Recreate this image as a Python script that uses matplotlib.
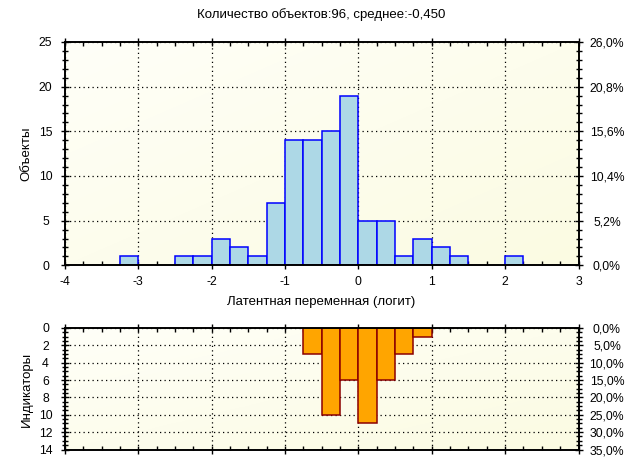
import numpy as np
import matplotlib
matplotlib.use('Agg')
import matplotlib.pyplot as plt
from matplotlib.ticker import MultipleLocator, FixedLocator
from matplotlib.colors import LinearSegmentedColormap

plt.rcParams['font.family'] = ['Liberation Sans', 'DejaVu Sans']
plt.rcParams['axes.unicode_minus'] = False

# ---------------- data ----------------
title = "Количество объектов:96, среднее:-0,450"
xlabel = "Латентная переменная (логит)"
ylabel_top = "Объекты"
ylabel_bottom = "Индикаторы"

bin_width = 0.25
person_bin_left = [-3.25, -2.5, -2.25, -2.0, -1.75, -1.5, -1.25, -1.0, -0.75,
                   -0.5, -0.25, 0.0, 0.25, 0.5, 0.75, 1.0, 1.25, 2.0]
person_counts = [1, 1, 1, 3, 2, 1, 7, 14, 14, 15, 19, 5, 5, 1, 3, 2, 1, 1]

item_bin_left = [-0.75, -0.5, -0.25, 0.0, 0.25, 0.5, 0.75]
item_counts = [3, 10, 6, 11, 6, 3, 1]

x_ticks = [-4, -3, -2, -1, 0, 1, 2, 3]
top_yticks = [0, 5, 10, 15, 20, 25]
bottom_yticks = [0, 2, 4, 6, 8, 10, 12, 14]

# ---------------- styling ----------------
DOT = (0, (1, 2.6))
TICK_FS = 8.8
LABEL_FS = 9.5


def pct_label(v, total):
    return f"{v / total * 100:.1f}%".replace('.', ',')


def add_bg(ax):
    cmap = LinearSegmentedColormap.from_list('bg', ['#FFFFF8', '#FBFBE2'])
    g = np.add.outer(np.linspace(0, 1, 64), np.linspace(0, 1, 64)) / 2
    ax.imshow(g, cmap=cmap, extent=[0, 1, 0, 1], transform=ax.transAxes,
              aspect='auto', zorder=0, interpolation='bilinear', origin='upper')


def style_spines(ax):
    for s in ax.spines.values():
        s.set_linewidth(1.2)
        s.set_color('black')


fig = plt.figure(figsize=(6.43, 4.72), dpi=100)
fig.patch.set_facecolor('white')

L = 65 / 643
W = (578.5 - 65) / 643
ax_t = fig.add_axes([L, 1 - 265.3 / 472, W, (265.3 - 42) / 472])
ax_b = fig.add_axes([L, 1 - 449.5 / 472, W, (449.5 - 328) / 472])

# ---------------- top histogram ----------------
add_bg(ax_t)
ax_t.bar(person_bin_left, person_counts, width=bin_width, align='edge',
         color='#ADD8E6', edgecolor='#0000FF', linewidth=1.1, zorder=2)
ax_t.set_xlim(x_ticks[0], x_ticks[-1])
ax_t.set_ylim(top_yticks[0], top_yticks[-1])
ax_t.set_axisbelow(True)
ax_t.xaxis.set_major_locator(FixedLocator(x_ticks))
ax_t.xaxis.set_minor_locator(MultipleLocator(0.25))
ax_t.yaxis.set_major_locator(FixedLocator(top_yticks))
ax_t.yaxis.set_minor_locator(MultipleLocator(1))
ax_t.grid(True, which='major', color='black', linestyle=DOT, linewidth=0.9)
ax_t.tick_params(axis='x', which='major', direction='inout', length=6, width=1,
                 top=True, labelsize=TICK_FS, pad=5)
ax_t.tick_params(axis='x', which='minor', direction='in', length=3, width=1, top=True)
ax_t.tick_params(axis='y', which='major', direction='inout', length=6, width=1,
                 labelsize=TICK_FS, pad=11)
ax_t.tick_params(axis='y', which='minor', direction='inout', length=4, width=1)
for lab in ax_t.get_yticklabels():
    lab.set_horizontalalignment('center')
style_spines(ax_t)

ax_t2 = ax_t.twinx()
ax_t2.set_ylim(ax_t.get_ylim())
ax_t2.yaxis.set_major_locator(FixedLocator(top_yticks))
ax_t2.yaxis.set_minor_locator(MultipleLocator(1))
total_t = sum(person_counts)
ax_t2.set_yticklabels([pct_label(v, total_t) for v in top_yticks])
ax_t2.tick_params(axis='y', which='major', direction='inout', length=6, width=1,
                  labelsize=TICK_FS, pad=17.5)
ax_t2.tick_params(axis='y', which='minor', direction='inout', length=4, width=1)
for lab in ax_t2.get_yticklabels():
    lab.set_horizontalalignment('center')
style_spines(ax_t2)

# ---------------- bottom histogram ----------------
add_bg(ax_b)
ax_b.bar(item_bin_left, item_counts, width=bin_width, align='edge',
         color='#FFA500', edgecolor='#8B0000', linewidth=1.1, zorder=2)
ax_b.set_xlim(x_ticks[0], x_ticks[-1])
ax_b.set_ylim(bottom_yticks[-1], bottom_yticks[0])
ax_b.set_axisbelow(True)
ax_b.xaxis.set_major_locator(FixedLocator(x_ticks))
ax_b.xaxis.set_minor_locator(MultipleLocator(0.25))
ax_b.yaxis.set_major_locator(FixedLocator(bottom_yticks))
ax_b.yaxis.set_minor_locator(MultipleLocator(0.5))
ax_b.grid(True, which='major', color='black', linestyle=DOT, linewidth=0.9)
ax_b.tick_params(axis='x', which='major', direction='inout', length=6, width=1,
                 top=True, labelbottom=False)
ax_b.tick_params(axis='x', which='minor', direction='in', length=3, width=1, top=True)
ax_b.tick_params(axis='y', which='major', direction='inout', length=6, width=1,
                 labelsize=TICK_FS, pad=11)
ax_b.tick_params(axis='y', which='minor', direction='inout', length=4, width=1)
for lab in ax_b.get_yticklabels():
    lab.set_horizontalalignment('center')
style_spines(ax_b)

ax_b2 = ax_b.twinx()
ax_b2.set_ylim(ax_b.get_ylim())
ax_b2.yaxis.set_major_locator(FixedLocator(bottom_yticks))
ax_b2.yaxis.set_minor_locator(MultipleLocator(0.5))
total_b = sum(item_counts)
ax_b2.set_yticklabels([pct_label(v, total_b) for v in bottom_yticks])
ax_b2.tick_params(axis='y', which='major', direction='inout', length=6, width=1,
                  labelsize=TICK_FS, pad=17.5)
ax_b2.tick_params(axis='y', which='minor', direction='inout', length=4, width=1)
for lab in ax_b2.get_yticklabels():
    lab.set_horizontalalignment('center')
style_spines(ax_b2)

# ---------------- texts ----------------
fig.text(321 / 643, 1 - 15 / 472, title, ha='center', va='center', fontsize=LABEL_FS)
fig.text(321 / 643, 1 - 302 / 472, xlabel, ha='center', va='center', fontsize=LABEL_FS)
fig.text(26 / 643, 1 - 154 / 472, ylabel_top, ha='center', va='center',
         rotation=90, fontsize=LABEL_FS)
fig.text(27 / 643, 1 - 389 / 472, ylabel_bottom, ha='center', va='center',
         rotation=90, fontsize=LABEL_FS)

fig.savefig('out.png', dpi=100, facecolor='white')
